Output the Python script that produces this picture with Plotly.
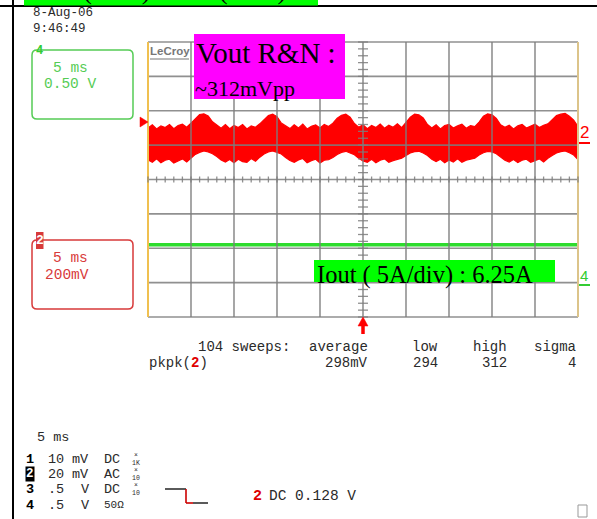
import plotly.graph_objects as go

# ---------------------------------------------------------------------------
# Captured waveforms (5 ms/div, 10 divisions, 104 sweeps persisted)
# ---------------------------------------------------------------------------
T_STEP_MS = 0.5

# Channel 2 (Vout ripple & noise, AC coupled): upper / lower envelope in mV
vout_top_mv = [
    100, 118, 94, 112, 102, 120, 96, 114, 122, 104,
    128, 154, 178, 182, 170, 136, 116, 98, 120, 96,
    114, 102, 120, 94, 112, 104, 124, 150, 172, 180,
    166, 128, 112, 96, 118, 100, 122, 94, 110, 118,
    100, 120, 108, 128, 156, 174, 180, 162, 126, 104,
    118, 96, 114, 102, 122, 98, 116, 104, 124, 102,
    132, 162, 180, 176, 158, 120, 100, 118, 94, 114,
    120, 100, 112, 122, 98, 114, 108, 134, 168, 182,
    176, 156, 118, 104, 116, 94, 112, 120, 100, 110,
    122, 102, 116, 124, 150, 172, 180, 184, 168, 146,
    108,
]
vout_bot_mv = [
    -86, -100, -80, -102, -88, -82, -104, -90, -80, -98,
    -74, -54, -42, -34, -40, -50, -66, -86, -98, -84,
    -102, -82, -96, -100, -78, -94, -70, -52, -40, -34,
    -42, -52, -72, -90, -100, -86, -78, -102, -90, -82,
    -104, -88, -84, -72, -54, -42, -36, -44, -56, -76,
    -92, -100, -82, -102, -88, -80, -100, -90, -84, -76,
    -60, -46, -38, -36, -46, -60, -82, -96, -82, -102,
    -86, -98, -80, -100, -88, -82, -76, -58, -44, -36,
    -40, -50, -70, -88, -98, -84, -102, -88, -82, -100,
    -90, -80, -98, -76, -60, -46, -38, -34, -44, -58,
    -84,
]

# Channel 4 (Iout): steady DC load current in A
iout_t_ms = [0, 50]
iout_a = [6.25, 6.25]

# Vertical placement on the 8-division screen
CH2_MV_PER_DIV = 200
CH2_OFFSET_DIV = 1.0
CH4_A_PER_DIV = 5
CH4_OFFSET_DIV = -3.15

# Measurement readout
meas_header = ["104 sweeps:", "average", "low", "high", "sigma"]
meas_values = ["298mV", "294", "312", "4"]

t_ms = [k * T_STEP_MS for k in range(len(vout_top_mv))]
top_div = [CH2_OFFSET_DIV + v / CH2_MV_PER_DIV for v in vout_top_mv]
bot_div = [CH2_OFFSET_DIV + v / CH2_MV_PER_DIV for v in vout_bot_mv]
iout_div = [CH4_OFFSET_DIV + a / CH4_A_PER_DIV for a in iout_a]

# ---------------------------------------------------------------------------
# Screen geometry helpers (pixel -> paper coordinates)
# ---------------------------------------------------------------------------
W, H = 597, 519
X0, X1 = 148, 578
Y0, Y1 = 42, 317


def px(x):
    return (x - X0) / (X1 - X0)


def py(y):
    return (Y1 - y) / (Y1 - Y0)


MONO = "Liberation Mono, DejaVu Sans Mono, monospace"
SERIF = "Liberation Serif, Times New Roman, serif"
SANS = "Liberation Sans, Arial, sans-serif"

RED = "#ff0000"
CH2_RED = "#d83a3a"
CH4_GREEN = "#55cc55"
TRACE_GREEN = "#2edc2e"
GRID = "rgba(125,125,125,0.85)"
TXT = "#2a2a2a"

fig = go.Figure()

# Channel 2 noise band
fig.add_trace(go.Scatter(x=t_ms, y=bot_div, mode="lines",
                         line=dict(color=RED, width=1.2), hoverinfo="skip"))
fig.add_trace(go.Scatter(x=t_ms, y=top_div, mode="lines", fill="tonexty",
                         fillcolor=RED, line=dict(color=RED, width=1.2),
                         hoverinfo="skip"))
# Channel 4 current trace
fig.add_trace(go.Scatter(x=iout_t_ms, y=iout_div, mode="lines",
                         line=dict(color=TRACE_GREEN, width=3.5),
                         hoverinfo="skip"))

shapes = []


def line(x0, y0, x1, y1, color, width=1, layer="above", dash=None):
    d = dict(type="line", xref="paper", yref="paper",
             x0=px(x0), y0=py(y0), x1=px(x1), y1=py(y1),
             line=dict(color=color, width=width), layer=layer)
    if dash:
        d["line"]["dash"] = dash
    shapes.append(d)


def rect(x0, y0, x1, y1, fill=None, color=None, width=0, layer="above"):
    shapes.append(dict(type="rect", xref="paper", yref="paper",
                       x0=px(x0), y0=py(y0), x1=px(x1), y1=py(y1),
                       fillcolor=fill or "rgba(0,0,0,0)",
                       line=dict(color=color or "rgba(0,0,0,0)", width=width),
                       layer=layer))


def rounded(x0, y0, x1, y1, r, color, width=1.5):
    p = (f"M {px(x0 + r)},{py(y0)} L {px(x1 - r)},{py(y0)} "
         f"Q {px(x1)},{py(y0)} {px(x1)},{py(y0 + r)} "
         f"L {px(x1)},{py(y1 - r)} Q {px(x1)},{py(y1)} {px(x1 - r)},{py(y1)} "
         f"L {px(x0 + r)},{py(y1)} Q {px(x0)},{py(y1)} {px(x0)},{py(y1 - r)} "
         f"L {px(x0)},{py(y0 + r)} Q {px(x0)},{py(y0)} {px(x0 + r)},{py(y0)} Z")
    shapes.append(dict(type="path", xref="paper", yref="paper", path=p,
                       line=dict(color=color, width=width), layer="above"))


def poly(points, fill):
    p = "M " + " L ".join(f"{px(a)},{py(b)}" for a, b in points) + " Z"
    shapes.append(dict(type="path", xref="paper", yref="paper", path=p,
                       fillcolor=fill, line=dict(color=fill, width=0.5),
                       layer="above"))


# Graticule: 10 x 8 divisions
for i in range(11):
    xx = X0 + i * (X1 - X0) / 10
    line(xx, Y0, xx, Y1, GRID, 1.6)
for j in range(9):
    yy = Y0 + j * (Y1 - Y0) / 8
    line(X0, yy, X1, yy, GRID, 1.6)
line(X0, Y0, X0, Y1, "#f0c050", 2)
line(X1, Y0, X1, Y1, "#dcc48a", 2)

# Minor ticks along the centre axes
cx = (X0 + X1) / 2
cy = (Y0 + Y1) / 2
for k in range(51):
    xx = X0 + k * (X1 - X0) / 50
    line(xx, cy - 3, xx, cy + 3, GRID, 1.3)
for k in range(41):
    yy = Y0 + k * (Y1 - Y0) / 40
    line(cx - 5, yy, cx + 5, yy, GRID, 1.3)

# Page frame lines
line(13, 0, 13, H, "black", 2)
line(0, 6, W, 6, "black", 2)
rect(24, -2, 318, 5.5, fill="#00ff00")

# Channel descriptor boxes
rounded(32, 50, 133, 119, 5, CH4_GREEN, 1.5)
rounded(32, 240, 133, 309, 5, CH2_RED, 1.5)
rect(36, 232, 43.5, 249, fill=CH2_RED)

# Highlight boxes
rect(194, 34, 345, 99, fill="#ff00ff")
rect(314, 260, 555, 282, fill="#00ff00")

# Ground / trigger markers
poly([(140, 117), (148, 122), (140, 127)], RED)
line(579, 143, 590, 143, RED, 2)
line(579, 285, 590, 285, "#33cc33", 2)
poly([(358, 326), (363, 317), (368, 326)], RED)
line(363, 324, 363, 334, RED, 3.5)

# LeCroy logo underline
line(150, 59, 189, 59, "#777777", 1.2)

# Trigger slope symbol
line(165, 489, 186, 489, "black", 1.3)
line(186, 489, 186, 503, "#cc0000", 1.6)
line(186, 503, 193, 503, "#cc0000", 1.6)
line(193, 503, 208, 503, "black", 1.3)

# Small icon box
rect(578, 505, 587, 517, color="#999999", width=1)

annotations = []


def ann(text, x, y, size=14, color=TXT, xanchor="left", family=MONO,
        yanchor="middle", **kw):
    annotations.append(dict(text=text, x=px(x), y=py(y), xref="paper",
                            yref="paper", xanchor=xanchor, yanchor=yanchor,
                            showarrow=False, font=dict(family=family, size=size,
                                                       color=color), **kw))


# Title strip (mostly beyond the top edge)
ann("Vout (Ch 2) : Iout (Ch 4)", 26, 7, size=26, color="black",
    family=SERIF, yanchor="bottom")

# Date and time
ann("8-Aug-06", 31, 13, size=12.5)
ann("9:46:49", 31, 29, size=12.5)

# Channel 4 box
ann("<b>4</b>", 40, 51, size=12, color="#33cc33", xanchor="center")
ann("5 ms", 70, 68, size=14.5, color=CH4_GREEN, xanchor="center")
ann("0.50 V", 70, 84, size=14.5, color=CH4_GREEN, xanchor="center")

# Channel 2 box
ann("<b>2</b>", 39.8, 240.5, size=13, color="white", xanchor="center")
ann("5 ms", 70, 258, size=14.5, color=CH2_RED, xanchor="center")
ann("200mV", 67, 275, size=14.5, color=CH2_RED, xanchor="center")

# LeCroy logo
ann("<b>LeCroy</b>", 169.5, 51, size=11.5, color="#777777",
    xanchor="center", family=SANS)

# Right-hand trace markers
ann("2", 584, 132, size=17, color=RED, xanchor="center", family=SANS)
ann("4", 584, 275, size=15, color="#33cc33", xanchor="center", family=SANS)

# Annotations on the screen
ann("Vout R&amp;N :", 194, 53, size=29, color="black", family=SERIF)
ann("~312mVpp", 193, 88, size=22, color="black", family=SERIF)
ann("Iout ( 5A/div) : 6.25A", 315, 275, size=24.5, color="black",
    family=SERIF)

# Measurement table
header_right = [292, 370, 440, 509, 578]
for txt, xr in zip(meas_header, header_right):
    ann(txt, xr, 347, size=14, xanchor="right")
ann("pkpk(<span style='color:#e00000'><b>2</b></span>)", 147, 363, size=14)
for txt, xr in zip(meas_values, header_right[1:]):
    ann(txt, xr, 363, size=14, xanchor="right")

# Timebase and channel setup block
ann("5 ms", 35, 437, size=13.5)
rows = [
    ("1", "10", "mV", "DC", "×<br>1K", 459),
    ("2", "20", "mV", "AC", "×<br>10", 474),
    ("3", ".5", "V", "DC", "×<br>10", 489),
    ("4", ".5", "V", "50Ω", "", 505),
]
for num, val, unit, cpl, probe, yy in rows:
    if num == "2":
        ann("<b>2</b>", 29.5, yy, size=12.5, color="white", xanchor="center",
            bgcolor="black", borderpad=0)
    else:
        ann(f"<b>{num}</b>", 29.5, yy, size=13.5, color="black",
            xanchor="center")
    ann(val, 46, yy, size=13.5)
    ann(unit, 70 if unit == "mV" else 79, yy, size=13.5)
    ann(cpl, 102, yy, size=13.5 if cpl != "50Ω" else 11)
    if probe:
        ann(probe, 135.5, yy, size=6.5, xanchor="center")

ann("<b>2</b>", 251, 496, size=15, color="#dd0000")
ann("DC 0.128 V", 267, 496, size=14.5)

fig.update_layout(
    width=W, height=H,
    margin=dict(l=X0, r=W - X1, t=Y0, b=H - Y1, pad=0),
    paper_bgcolor="white", plot_bgcolor="white",
    showlegend=False,
    xaxis=dict(range=[0, 50], visible=False, fixedrange=True),
    yaxis=dict(range=[-4, 4], visible=False, fixedrange=True),
    shapes=shapes,
    annotations=annotations,
)

fig.write_html("out.html", config={"displayModeBar": False})
